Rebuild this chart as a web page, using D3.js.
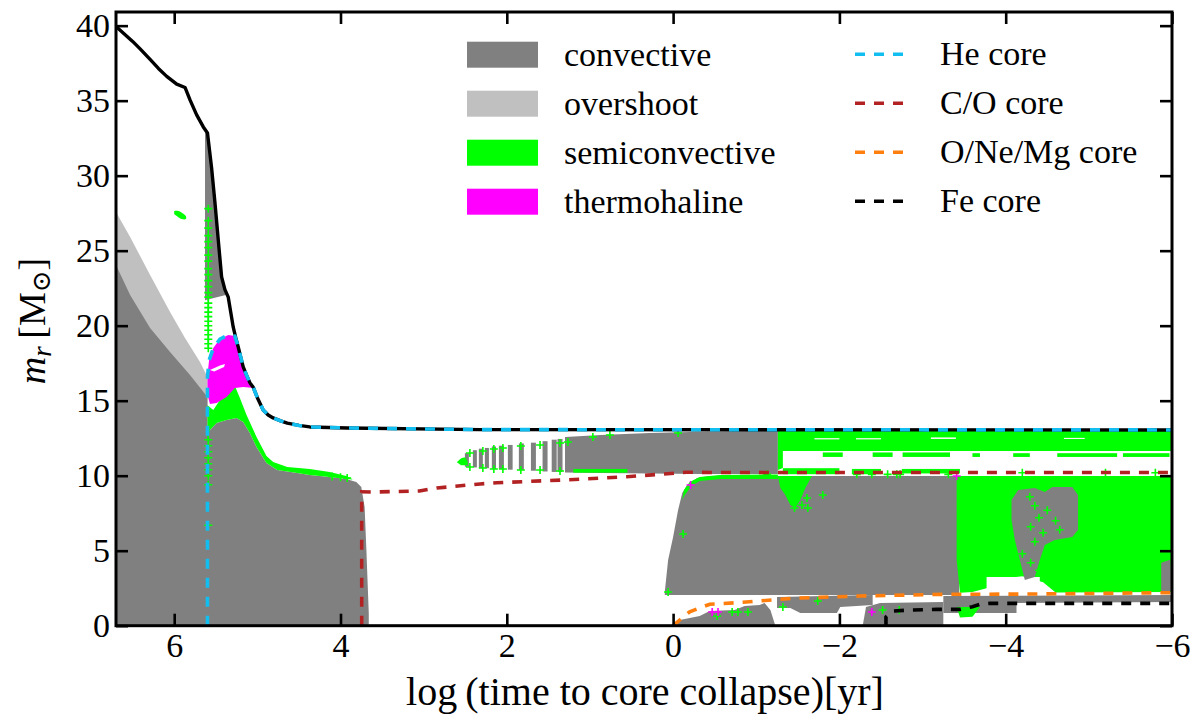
<!DOCTYPE html>
<html><head><meta charset="utf-8">
<script src="https://cdn.jsdelivr.net/npm/d3@7"></script>
<style>body{margin:0;background:#fff}svg{display:block}</style>
</head><body>
<svg id="c" width="1201" height="727"></svg>
<script>
// ---------------- DATA (x = log time to core collapse [yr], y = m_r [Msun]) ----------------
const xTicks = [6, 4, 2, 0, -2, -4, -6];
const yTicks = [0, 5, 10, 15, 20, 25, 30, 35, 40];

const legendFills = [
  {label: "convective", color: "#808080"},
  {label: "overshoot", color: "#c0c0c0"},
  {label: "semiconvective", color: "#00ff00"},
  {label: "thermohaline", color: "#ff00ff"}
];
const legendLines = [
  {label: "He core", color: "#12bdf0"},
  {label: "C/O core", color: "#b22222"},
  {label: "O/Ne/Mg core", color: "#ff7f0e"},
  {label: "Fe core", color: "#000000"}
];

const surfaceMass = [[6.70,39.95],[6.60,39.45],[6.50,38.95],[6.41,38.45],[6.29,37.75],[6.19,37.15],[6.09,36.62],[5.97,36.1],[5.87,35.88],[5.81,35.05],[5.73,34.05],[5.65,33.25],[5.60,32.85],[5.55,30.5],[5.51,28.2],[5.47,25.7],[5.43,23.25],[5.39,22.4],[5.35,21.9],[5.32,20.9],[5.29,19.9],[5.26,19.2],[5.23,18.58],[5.20,17.9],[5.17,17.25],[5.13,16.7],[5.09,16.2],[5.05,15.9],[5.00,15.2],[4.93,14.38],[4.87,14.05],[4.81,13.85],[4.72,13.65],[4.64,13.5],[4.50,13.35],[4.37,13.25],[3.92,13.18],[2.32,13.07],[-6,13.05]];
const heCore = [[5.60,0],[5.60,16.58],[5.58,17.7],[5.53,18.5],[5.45,19.1],[5.35,19.38],[5.27,19.3],[5.23,18.58],[5.20,17.9],[5.17,17.25],[5.13,16.7],[5.09,16.2],[5.05,15.9],[5.00,15.2],[4.93,14.38],[4.87,14.05],[4.81,13.85],[4.72,13.65],[4.64,13.5],[4.50,13.35],[4.37,13.25],[3.92,13.18],[2.32,13.07],[-6,13.05]];
const coCore = [[3.745,0],[3.745,8.93],[3.61,8.91],[3.05,8.98],[2.84,9.18],[2.32,9.45],[2.12,9.53],[1.33,9.71],[0.56,9.93],[-0.16,10.23],[-0.65,10.21],[-6,10.21]];
const oneMgCore = [[0,0],[-0.08,0.38],[-0.20,0.93],[-0.44,1.43],[-0.84,1.56],[-1.44,1.83],[-2.25,1.98],[-3.24,2.09],[-4.29,2.11],[-6,2.2]];
const feCore = [[-2.56,0],[-2.56,0.58],[-2.64,0.98],[-2.88,1.05],[-3.17,1.09],[-3.45,1.09],[-3.60,1.27],[-3.69,1.43],[-3.81,1.49],[-6,1.49]];

const overshootRegion = [[6.70,0],[6.70,27.58],[6.53,25.91],[6.29,23.38],[6.05,20.91],[5.87,19.18],[5.69,17.58],[5.60,16.58],[5.60,0]];
const convCoreRegion = [[6.70,0],[6.70,24.05],[6.53,22.05],[6.29,19.85],[6.05,18.25],[5.81,16.71],[5.60,15.25],[5.60,13.05],[5.57,13.05],[5.49,13.51],[5.37,13.71],[5.25,13.85],[5.17,13.58],[5.09,12.85],[5.01,11.91],[4.89,10.85],[4.76,10.38],[4.52,10.18],[4.37,10.05],[4.13,9.91],[3.93,9.78],[3.81,9.58],[3.75,9.25],[3.71,7.91],[3.69,5.25],[3.66,0.85],[3.66,0]];
const envConvRegion = [[5.63,32.85],[5.60,32.85],[5.51,28.2],[5.43,23.25],[5.38,22.05],[5.63,21.7]];
const semiconvHeShell = [[5.60,14.7],[5.53,14.38],[5.45,15.05],[5.33,15.71],[5.27,15.98],[5.21,15.18],[5.13,14.05],[5.01,12.58],[4.89,11.31],[4.81,10.91],[4.64,10.58],[4.37,10.45],[4.13,10.25],[3.93,9.98],[3.85,9.75],[3.93,9.78],[4.13,9.91],[4.37,10.05],[4.52,10.18],[4.76,10.38],[4.89,10.85],[5.01,11.91],[5.09,12.85],[5.17,13.58],[5.25,13.85],[5.37,13.71],[5.49,13.51],[5.57,13.05],[5.60,12.4]];
const thermohalineRegion = [[5.60,16.71],[5.58,17.71],[5.53,18.51],[5.45,19.11],[5.35,19.38],[5.27,19.31],[5.23,18.58],[5.17,17.38],[5.09,16.38],[5.04,15.85],[5.17,15.91],[5.27,15.85],[5.37,15.25],[5.49,14.85],[5.57,14.78],[5.60,15.38]];
const thermoGap = [[5.57,17.05],[5.45,17.35],[5.39,17.45],[5.40,17.25],[5.52,16.95]];
const semiconvIsland = [[6.0,27.65],[5.95,27.65],[5.86,27.31],[5.86,27.11],[5.91,27.11],[6.0,27.45]];

// carbon-shell convection: stripes [xLeft, xRight, yBottom, yTop]
const shellStripes = [[2.504,2.456,10.6,11.5],[2.408,2.36,10.55,11.7],[2.336,2.288,10.5,11.8],[2.264,2.215,10.5,11.85],[2.18,2.13,10.45,11.95],[2.095,2.035,10.45,12.0],[1.987,1.93,10.4,12.05],[1.855,1.795,10.38,12.15],[1.71,1.65,10.33,12.2],[1.57,1.51,10.28,12.3],[1.46,1.40,10.25,12.4],[1.39,1.33,10.25,12.45]];
const shellSolidRegion = [[1.30,12.58],[0.87,12.71],[0.28,12.85],[-0.32,12.93],[-1.26,13.0],[-1.26,10.11],[-0.32,10.11],[0.87,10.18],[1.30,10.21]];
const shellTip = [[2.60,10.9],[2.55,11.15],[2.50,11.2],[2.47,10.75],[2.55,10.7]];

const coreConvRegion = [[0.10,2.27],[0.06,4.38],[0.00,5.91],[-0.06,7.71],[-0.11,8.85],[-0.17,9.38],[-0.29,9.85],[-0.44,9.98],[-3.44,9.98],[-3.44,2.05],[0.10,2.05]];
const lowShell1 = [[-0.045,0],[-0.08,0.38],[-0.32,0.65],[-0.44,0.98],[-0.74,1.05],[-0.86,1.31],[-1.04,1.38],[-1.10,1.51],[-1.17,1.05],[-1.23,0]];
const lowShell2 = [[-1.25,1.91],[-2.40,2.05],[-2.40,1.38],[-2.01,1.25],[-1.97,0.85],[-1.53,0.85],[-1.41,1.18],[-1.25,1.18]];
const lowShell3 = [[-2.28,0],[-2.32,1.25],[-2.49,1.51],[-3.25,1.58],[-3.25,0]];
const lowShell4 = [[-3.25,1.98],[-6,2.05],[-6,1.58],[-4.13,1.51],[-4.13,0.85],[-3.25,0.85]];

const rightSemiconvRegion = [[-3.41,9.98],[-6,9.98],[-6,2.25],[-4.6,2.22],[-4.45,2.9],[-4.2,3.3],[-3.9,3.1],[-3.77,2.5],[-3.6,2.25],[-3.45,2.2],[-3.41,4.4]];
const rightConvPatch = [[-4.07,8.38],[-4.15,9.05],[-4.35,9.18],[-4.47,8.91],[-4.56,9.25],[-4.80,9.25],[-4.87,8.71],[-4.87,6.38],[-4.80,5.91],[-4.59,5.71],[-4.47,5.38],[-4.41,4.38],[-4.35,3.25],[-4.23,3.05],[-4.17,4.38],[-4.11,5.71],[-4.07,7.05]];
const rightEdgeConv = [[-5.87,4.2],[-5.98,4.4],[-6,2.3],[-5.87,2.3]];
const upperSemiconvBand = [[-1.26,13.01],[-6,13.01],[-6,11.65],[-1.32,11.65],[-1.32,10.51],[-1.26,10.38]];
const semiconvBelowCO = [[-1.26,9.98],[-1.67,9.98],[-1.59,9.18],[-1.53,8.38],[-1.47,7.85],[-1.41,8.05],[-1.35,8.71],[-1.29,9.18]];
const semiconvCoreTop = [[-0.11,8.38],[-0.13,9.05],[-0.20,9.58],[-0.32,9.91],[-0.56,10.05],[-1.26,10.08],[-1.26,9.78],[-0.56,9.78],[-0.32,9.65],[-0.22,9.31],[-0.14,8.71]];
const semiconvFeBlob = [[-3.41,1.25],[-3.69,1.25],[-3.60,0.6],[-3.45,0.55]];
// semiconvective strips [xLeft, xRight, yBottom, yTop]
const semiconvStrips = [[1.2,0.55,10.2,10.45],[-1.32,-2.0,10.1,10.5],[-2.15,-2.5,10.1,10.45],[-2.75,-3.45,10.15,10.45],[-1.80,-2.04,11.25,11.55],[-2.40,-2.64,11.25,11.55],[-2.76,-3.33,11.25,11.55],[-3.60,-3.69,11.25,11.5],[-4.09,-4.29,11.25,11.5],[-4.62,-5.34,11.25,11.5],[-5.41,-5.97,11.25,11.5]];
const gapStrips = [[-1.7,-2.0,12.42,12.5],[-2.2,-2.5,12.42,12.5],[-3.1,-3.4,12.45,12.55],[-4.7,-4.95,12.45,12.52]];
const whiteGapLow = [[-3.77,3.25],[-4.41,3.25],[-4.41,2.2],[-3.77,2.2]];

const heVerticalY = [27.8,27.0,26.5,26.0,25.6,25.2,24.7,24.3,23.8,23.4,23.0,22.6,22.2,21.9,21.5,21.2,20.9,20.6,20.3,20.0,19.7,19.4,19.1,18.8,18.5,12.4,12.0,11.6,11.2,10.8,10.4,10.0,9.4,6.7];
const semiconvMarkers = [[2.444,11.51],[2.288,11.65],[2.156,11.78],[2.047,11.85],[1.831,11.98],[1.60,12.05],[1.36,12.18],[1.265,12.25],[0.965,12.58],[0.76,12.71],[-0.06,12.85],
  [2.444,10.58],[2.288,10.51],[2.156,10.45],[2.047,10.45],[1.831,10.38],[1.60,10.38],[1.36,10.31],
  [4.1,9.95],[4.0,9.9],[3.92,9.85],
  [-0.71,0.91],[-0.78,0.91],[-0.90,0.91],[-0.53,0.65],[-2.52,1.05],[-2.72,1.05],[-1.32,1.25],[-1.74,1.65],
  [-0.12,6.11],[0.06,2.25],[-1.46,7.85],[-1.55,8.05],[-1.62,7.85],[-1.61,8.51],[-1.80,8.71],
  [-1.13,10.09],[-2.21,10.09],[-2.39,10.09],[-2.58,10.09],[-2.69,10.09],[-2.73,10.09],[-3.31,10.09],[-4.2,10.2],[-5.2,10.2],[-5.8,10.2],
  [-4.29,8.6],[-4.35,8.0],[-4.5,7.7],[-4.4,7.2],[-4.3,6.6],[-4.45,6.2],[-4.6,7.0],[-4.65,6.4],[-4.35,5.6],[-4.2,4.8],[-4.5,5.0],[-4.3,4.2],[-4.4,3.7]];
const thermoMarkers = [[-0.47,0.91],[-0.54,0.91],[-2.39,0.91],[-0.21,9.38],[-3.41,9.98]];

// ---------------- DRAWING ----------------
const svg = d3.select("#c");
const font = "'Liberation Serif','Times New Roman',serif";
const L = 116, R = 1172, T = 12, B = 625.7;
const x = d3.scaleLinear().domain([6.70, -6.0]).range([L, R]);
const y = d3.scaleLinear().domain([0, 40.91]).range([B, T]);

svg.append("defs").append("clipPath").attr("id","clip")
  .append("rect").attr("x",L).attr("y",T).attr("width",R-L).attr("height",B-T);
const g = svg.append("g").attr("clip-path","url(#clip)");

const line = d3.line().x(d=>x(d[0])).y(d=>y(d[1]));
const smooth = d3.line().x(d=>x(d[0])).y(d=>y(d[1])).curve(d3.curveCatmullRom.alpha(0.5));
const GRAY="#808080", LGRAY="#c0c0c0", GREEN="#00ff00", MAG="#ff00ff";

function poly(pts, color){ g.append("path").attr("d", smooth(pts)+"Z").attr("fill",color).attr("stroke","none"); }
function polyL(pts, color){ g.append("path").attr("d", line(pts)+"Z").attr("fill",color).attr("stroke","none"); }
function rects(arr, color){
  g.append("g").selectAll("rect").data(arr).join("rect")
   .attr("x", d=>x(d[0])).attr("width", d=>x(d[1])-x(d[0]))
   .attr("y", d=>y(d[3])).attr("height", d=>y(d[2])-y(d[3])).attr("fill", color);
}

polyL(overshootRegion, LGRAY);
polyL(convCoreRegion, GRAY);
polyL(envConvRegion, GRAY);
polyL(semiconvHeShell, GREEN);
polyL(thermohalineRegion, MAG);
polyL(thermoGap, "#fff");
poly(semiconvIsland, GREEN);

rects(shellStripes, GRAY);
polyL(shellSolidRegion, GRAY);
poly(shellTip, GREEN);

polyL(coreConvRegion, GRAY);
polyL(lowShell1, GRAY);
polyL(lowShell2, GRAY);
polyL(lowShell3, GRAY);
polyL(lowShell4, GRAY);
polyL(rightSemiconvRegion, GREEN);
polyL(whiteGapLow, "#fff");
polyL(rightConvPatch, GRAY);
polyL(rightEdgeConv, GRAY);
polyL(upperSemiconvBand, GREEN);
rects(gapStrips, "#fff");
polyL(semiconvBelowCO, GREEN);
polyL(semiconvCoreTop, GREEN);
polyL(semiconvFeBlob, GREEN);
rects(semiconvStrips, GREEN);

const plus = "M-4,0H4M0,-4V4";
g.append("g").selectAll("path").data(heVerticalY).join("path")
  .attr("transform", d=>`translate(${x(5.59)},${y(d)})`).attr("d", plus)
  .attr("stroke", GREEN).attr("stroke-width",1.6).attr("fill","none");
g.append("g").selectAll("path").data(semiconvMarkers).join("path")
  .attr("transform", d=>`translate(${x(d[0])},${y(d[1])})`).attr("d", plus)
  .attr("stroke", GREEN).attr("stroke-width",1.6).attr("fill","none");
g.append("g").selectAll("path").data(thermoMarkers).join("path")
  .attr("transform", d=>`translate(${x(d[0])},${y(d[1])})`).attr("d", plus)
  .attr("stroke", MAG).attr("stroke-width",1.6).attr("fill","none");

// lines
g.append("path").attr("d", line(surfaceMass)).attr("fill","none").attr("stroke","#000").attr("stroke-width",3.4).attr("stroke-linejoin","round");
const dash = "10,9";
g.append("path").attr("d", line(heCore)).attr("fill","none").attr("stroke",legendLines[0].color).attr("stroke-width",3.6).attr("stroke-dasharray",dash);
g.append("path").attr("d", line(coCore)).attr("fill","none").attr("stroke",legendLines[1].color).attr("stroke-width",3.6).attr("stroke-dasharray",dash);
g.append("path").attr("d", line(oneMgCore)).attr("fill","none").attr("stroke",legendLines[2].color).attr("stroke-width",3.6).attr("stroke-dasharray",dash);
g.append("path").attr("d", line(feCore)).attr("fill","none").attr("stroke",legendLines[3].color).attr("stroke-width",3.6).attr("stroke-dasharray",dash);

// axes
function styleAxis(sel){ sel.attr("font-family",font); sel.select(".domain").remove();
  sel.selectAll(".tick line").attr("stroke","#000").attr("stroke-width",2.6);
  sel.selectAll("text").style("font-family",font).attr("font-size",34).attr("fill","#000"); }
svg.append("g").attr("transform",`translate(0,${B})`)
  .call(d3.axisBottom(x).tickValues(xTicks).tickSizeInner(-12).tickSizeOuter(0).tickPadding(7).tickFormat(d3.format("d")))
  .call(styleAxis);
svg.append("g").attr("transform",`translate(0,${T})`)
  .call(d3.axisTop(x).tickValues(xTicks).tickSizeInner(-12).tickSizeOuter(0).tickFormat(""))
  .call(styleAxis);
svg.append("g").attr("transform",`translate(${L},0)`)
  .call(d3.axisLeft(y).tickValues(yTicks).tickSizeInner(-12).tickSizeOuter(0).tickPadding(6).tickFormat(d3.format("d")))
  .call(styleAxis);
svg.append("g").attr("transform",`translate(${R},0)`)
  .call(d3.axisRight(y).tickValues(yTicks).tickSizeInner(-12).tickSizeOuter(0).tickFormat(""))
  .call(styleAxis);
svg.append("rect").attr("x",L).attr("y",T).attr("width",R-L).attr("height",B-T)
  .attr("fill","none").attr("stroke","#000").attr("stroke-width",3);

// axis labels
svg.append("text").attr("x",645).attr("y",705).attr("text-anchor","middle")
  .style("font-family",font).attr("font-size",40).text("log\u2009(time to core collapse)[yr]");
const yl = svg.append("text").attr("transform","translate(45,321) rotate(-90)").attr("text-anchor","middle")
  .style("font-family",font).attr("font-size",38);
yl.append("tspan").attr("font-style","italic").text("m");
yl.append("tspan").attr("font-style","italic").attr("font-size",27).attr("dy",6).text("r");
yl.append("tspan").attr("dy",-6).text("\u2009[M");
yl.append("tspan").attr("font-size",26).attr("dy",5).style("font-family","'DejaVu Serif',serif").text("\u2299");
yl.append("tspan").attr("dy",-5).text("]");

// legend
const lg = svg.append("g");
legendFills.forEach((d,i)=>{
  const cy = 54.7 + i*49;
  lg.append("rect").attr("x",467).attr("y",cy-13).attr("width",71).attr("height",26).attr("fill",d.color);
  lg.append("text").attr("x",564).attr("y",cy+11).style("font-family",font).attr("font-size",34).text(d.label);
});
legendLines.forEach((d,i)=>{
  const cy = 54.3 + i*49;
  lg.append("line").attr("x1",855).attr("x2",903).attr("y1",cy).attr("y2",cy)
    .attr("stroke",d.color).attr("stroke-width",3.4).attr("stroke-dasharray","10,9");
  lg.append("text").attr("x",940).attr("y",cy+11).style("font-family",font).attr("font-size",34).text(d.label);
});
</script>
</body></html>
